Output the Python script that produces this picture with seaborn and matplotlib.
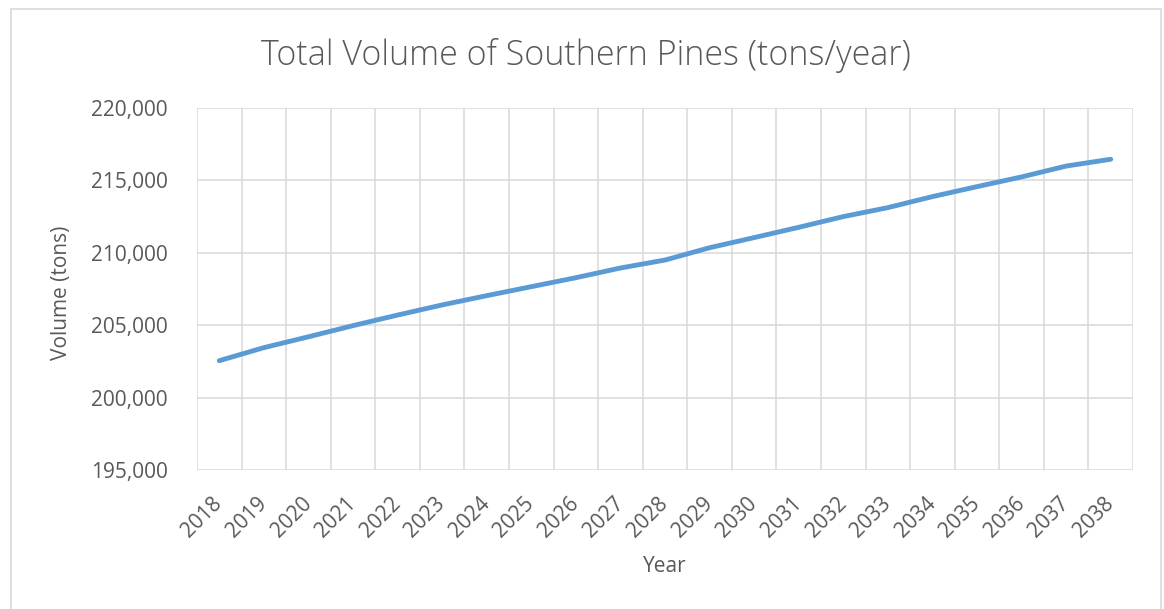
import pandas as pd
import matplotlib
matplotlib.use('Agg')
import matplotlib.pyplot as plt
import seaborn as sns
from matplotlib.ticker import FuncFormatter, MultipleLocator, FixedLocator
from matplotlib.patches import Rectangle

# Data
years = ['2018', '2019', '2020', '2021', '2022', '2023', '2024', '2025', '2026', '2027', '2028',
         '2029', '2030', '2031', '2032', '2033', '2034', '2035', '2036', '2037', '2038']
volume = [202550, 203450, 204200, 204970, 205700, 206400, 207040, 207660, 208280, 208950, 209500,
          210350, 211050, 211760, 212500, 213120, 213880, 214570, 215240, 215990, 216460]

df = pd.DataFrame({'Year': years, 'Volume': volume})

sns.set_theme(style='white')
plt.rcParams['font.family'] = ['Open Sans', 'DejaVu Sans']

text_color = '#595959'
grid_color = '#D9D9D9'
line_color = '#5B9BD5'

W, H = 1164, 609
fig = plt.figure(figsize=(W / 100, H / 100), dpi=100)
fig.patch.set_facecolor('white')

# plot area in pixel coordinates of the reference
left, right, top, bottom = 197, 1133, 108, 470
ax = fig.add_axes([left / W, 1 - bottom / H, (right - left) / W, (bottom - top) / H])

sns.lineplot(data=df, x='Year', y='Volume', ax=ax, color=line_color, linewidth=3.5,
             sort=False, solid_capstyle='round')

ax.set_xlim(-0.5, len(years) - 0.5)
ax.set_ylim(195000, 220000)
ax.yaxis.set_major_locator(MultipleLocator(5000))
ax.yaxis.set_major_formatter(FuncFormatter(lambda v, p: f'{int(v):,}'))

ax.set_xticks(range(len(years)))
ax.set_xticklabels(years)
ax.xaxis.set_minor_locator(FixedLocator([i - 0.5 for i in range(len(years) + 1)]))

ax.grid(False)
ax.grid(which='major', axis='y', color=grid_color, linewidth=1.1)
ax.grid(which='minor', axis='x', color=grid_color, linewidth=1.1)
for s in ax.spines.values():
    s.set_visible(False)

ax.tick_params(axis='both', which='both', length=0, colors=text_color, labelsize=15)
ax.tick_params(axis='y', pad=21)
ax.tick_params(axis='x', pad=22)
for lab in ax.get_xticklabels():
    lab.set_rotation(45)
    lab.set_ha('right')
    lab.set_va('center')
    lab.set_rotation_mode('anchor')

ax.set_xlabel('')
ax.set_ylabel('')

fig.text(586 / W, 1 - 65 / H, 'Total Volume of Southern Pines (tons/year)', ha='center', va='baseline',
         fontsize=24.5, color=text_color, fontweight='light')
fig.text(62 / W, 1 - 293 / H, 'Volume (tons)', ha='center', va='center', rotation=90,
         fontsize=15, color=text_color)
fig.text(665 / W, 1 - 567 / H, 'Year', ha='center', va='center', fontsize=15, color=text_color)

# chart area border
fig.patches.append(Rectangle((11 / W, -0.02), (1161 - 11) / W, 1.02 - 9 / H, transform=fig.transFigure,
                             fill=False, edgecolor=grid_color, linewidth=1.2))

fig.savefig('out.png', dpi=100)
